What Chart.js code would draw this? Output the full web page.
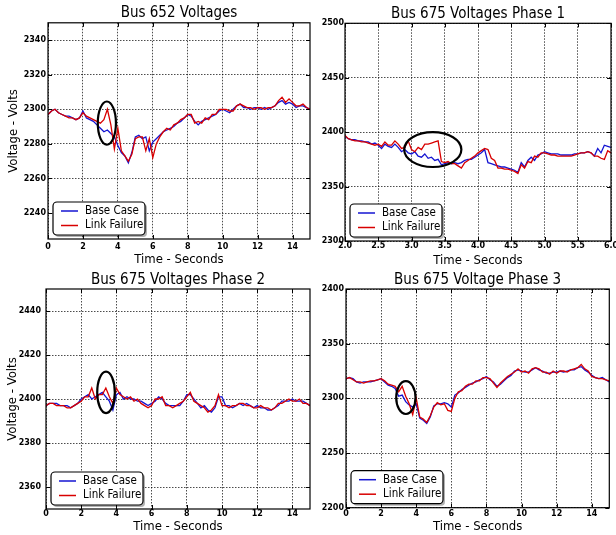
<!DOCTYPE html>
<html>
<head>
<meta charset="utf-8">
<script src="https://cdn.jsdelivr.net/npm/chart.js@4.4.1/dist/chart.umd.min.js"></script>
<style>
  html, body { margin: 0; padding: 0; background: #fff; }
  #wrap { position: relative; width: 616px; height: 535px; overflow: hidden; }
  canvas { position: absolute; }
</style>
</head>
<body>
<div id="wrap">
  <canvas id="bus652" width="316" height="268" style="left:0;top:0"></canvas>
  <canvas id="phase1" width="300" height="268" style="left:316px;top:0"></canvas>
  <canvas id="phase2" width="316" height="267" style="left:0;top:268px"></canvas>
  <canvas id="phase3" width="300" height="267" style="left:316px;top:268px"></canvas>
</div>
<script>
// sample times (s)
const timeFull = [0,0.2,0.4,0.6,0.8,1,1.2,1.4,1.6,1.8,
  2,2.2,2.4,2.6,2.8,3,3.2,3.4,3.6,3.8,
  4,4.2,4.4,4.6,4.8,5,5.2,5.4,5.6,5.8,
  6,6.2,6.4,6.6,6.8,7,7.2,7.4,7.6,7.8,
  8,8.2,8.4,8.6,8.8,9,9.2,9.4,9.6,9.8,
  10,10.2,10.4,10.6,10.8,11,11.2,11.4,11.6,11.8,
  12,12.2,12.4,12.6,12.8,13,13.2,13.4,13.6,13.8,
  14,14.2,14.4,14.6,14.8,15];
const timeZoom = [2,2.05,2.1,2.15,2.2,2.25,2.3,2.35,2.4,2.45,
  2.5,2.55,2.6,2.65,2.7,2.75,2.8,2.85,2.9,2.95,
  3,3.05,3.1,3.15,3.2,3.25,3.3,3.35,3.4,3.45,
  3.5,3.55,3.6,3.65,3.7,3.75,3.8,3.85,3.9,3.95,
  4,4.05,4.1,4.15,4.2,4.25,4.3,4.35,4.4,4.45,
  4.5,4.55,4.6,4.65,4.7,4.75,4.8,4.85,4.9,4.95,
  5,5.05,5.1,5.15,5.2,5.25,5.3,5.35,5.4,5.45,
  5.5,5.55,5.6,5.65,5.7,5.75,5.8,5.85,5.9,5.95,
  6];

// Bus 652
const bus652Base = [2297,2299,2300,2298,2297,2296,2296,2295,2294,2295,
  2299,2295,2294,2293,2291,2289,2287,2288,2286,2284,
  2279,2275,2273,2269,2275,2284,2285,2283,2284,2276,
  2281,2283,2285,2287,2288,2289,2290,2292,2293,2295,
  2297,2296,2293,2291,2293,2294,2295,2296,2297,2299,
  2300,2299,2298,2300,2302,2303,2301,2301,2300,2301,
  2301,2300,2301,2300,2301,2302,2304,2305,2303,2304,
  2303,2301,2302,2302,2301,2300];
const bus652Fail = [2297,2299,2300,2298,2297,2296,2295,2295,2294,2295,
  2298,2296,2295,2294,2293,2292,2294,2300,2291,2277,
  2289,2276,2273,2270,2274,2283,2284,2284,2276,2283,
  2272,2280,2284,2287,2289,2288,2291,2292,2294,2295,
  2297,2297,2292,2293,2292,2295,2294,2297,2297,2300,
  2300,2300,2299,2299,2302,2303,2302,2301,2301,2300,
  2301,2301,2300,2301,2301,2302,2305,2307,2304,2306,
  2304,2302,2302,2303,2301,2300];

// Bus 675 phase 1 (2 - 6 s)
const phase1Base = [2396,2394,2393,2393,2392,2392,2391,2391,2389,2390,
  2388,2385,2389,2387,2386,2389,2386,2382,2384,2381,
  2380,2382,2378,2377,2380,2376,2377,2374,2375,2370,
  2371,2372,2371,2372,2371,2372,2374,2375,2375,2377,
  2379,2381,2384,2372,2371,2370,2369,2368,2368,2367,
  2366,2365,2363,2372,2368,2374,2377,2374,2379,2380,
  2382,2381,2380,2380,2380,2379,2379,2379,2379,2380,
  2380,2381,2381,2382,2381,2378,2385,2381,2388,2387,
  2386];
const phase1Fail = [2397,2394,2393,2392,2392,2391,2391,2390,2389,2388,
  2389,2387,2391,2388,2388,2392,2389,2385,2386,2392,
  2384,2382,2386,2384,2389,2389,2390,2391,2392,2373,
  2372,2373,2371,2371,2369,2367,2372,2374,2376,2378,
  2381,2383,2385,2384,2376,2374,2367,2367,2366,2366,
  2365,2364,2362,2370,2367,2373,2372,2378,2377,2381,
  2381,2380,2379,2379,2378,2378,2378,2378,2378,2379,
  2380,2381,2381,2382,2381,2378,2378,2376,2375,2383,
  2381];

// Bus 675 phase 2
const phase2Base = [2397,2398,2398,2398,2397,2397,2397,2396,2397,2398,
  2400,2401,2402,2400,2401,2402,2403,2401,2399,2395,
  2402,2403,2400,2401,2400,2400,2399,2399,2398,2397,
  2398,2399,2401,2400,2398,2397,2397,2397,2397,2399,
  2402,2402,2400,2398,2396,2397,2395,2394,2396,2401,
  2401,2397,2397,2396,2397,2398,2397,2398,2397,2396,
  2397,2396,2396,2395,2395,2396,2397,2399,2399,2399,
  2400,2399,2399,2399,2398,2397];
const phase2Fail = [2397,2398,2398,2397,2397,2397,2396,2396,2397,2398,
  2399,2401,2401,2405,2400,2402,2402,2405,2401,2398,
  2405,2402,2401,2400,2401,2399,2400,2398,2397,2396,
  2397,2400,2400,2401,2397,2397,2396,2397,2398,2399,
  2401,2403,2399,2398,2397,2396,2394,2395,2397,2402,
  2397,2397,2396,2397,2397,2398,2398,2397,2397,2396,
  2396,2397,2396,2396,2395,2396,2398,2398,2399,2400,
  2399,2399,2400,2398,2398,2397];

// Bus 675 phase 3
const phase3Base = [2318,2319,2318,2315,2314,2315,2315,2315,2316,2317,
  2318,2315,2312,2311,2309,2302,2303,2297,2294,2292,
  2295,2282,2280,2277,2283,2293,2295,2295,2296,2295,
  2292,2303,2305,2308,2310,2312,2314,2315,2317,2318,
  2320,2317,2315,2311,2313,2316,2319,2321,2325,2326,
  2325,2324,2324,2326,2328,2326,2325,2323,2323,2324,
  2324,2325,2324,2325,2326,2326,2328,2329,2326,2324,
  2321,2319,2318,2319,2317,2315];
const phase3Fail = [2318,2319,2317,2315,2315,2314,2315,2316,2316,2317,
  2318,2316,2313,2312,2311,2306,2311,2302,2295,2285,
  2300,2283,2281,2278,2284,2292,2296,2294,2295,2289,
  2288,2300,2306,2307,2311,2313,2313,2316,2316,2319,
  2319,2318,2314,2310,2314,2317,2320,2322,2324,2327,
  2324,2325,2323,2327,2328,2327,2324,2324,2322,2325,
  2323,2325,2325,2324,2326,2327,2328,2331,2327,2325,
  2320,2319,2318,2318,2317,2316];

// tick labels
const xTicksFull = [0, 2, 4, 6, 8, 10, 12, 14];
const xTicksZoom = [2.0, 2.5, 3.0, 3.5, 4.0, 4.5, 5.0, 5.5, 6.0];
const yTicksBus652 = [2240, 2260, 2280, 2300, 2320, 2340];
const yTicksPhase1 = [2300, 2350, 2400, 2450, 2500];
const yTicksPhase2 = [2360, 2380, 2400, 2420, 2440];
const yTicksPhase3 = [2200, 2250, 2300, 2350, 2400];

// circled regions: [time, volts, radius s, radius V]
const circleBus652 = [3.37, 2292, 0.52, 12.5];
const circlePhase1 = [3.32, 2384, 0.43, 16];
const circlePhase2 = [3.41, 2403, 0.5, 9.4];
const circlePhase3 = [3.41, 2300.7, 0.55, 15];

const seriesNames = ['Base Case', 'Link Failure'];
const baseColor = '#1414d2';
const failColor = '#d80000';

const textFamily = "'DejaVu Sans Condensed', 'Liberation Sans', sans-serif";
const tickFont = { family: "'DejaVu Sans', sans-serif", size: 8, weight: 'bold' };
const titleFont = { family: textFamily, size: 15, weight: 'normal' };
const axisFont = { family: textFamily, size: 13, weight: 'normal' };

const decor = {
  id: 'decor',
  afterDatasetsDraw(chart, args, opts) {
    const { ctx, chartArea: a, scales: { x, y } } = chart;
    ctx.save();
    // circled region
    const e = opts.ellipse;
    if (e) {
      const cx = x.getPixelForValue(e[0]), cy = y.getPixelForValue(e[1]);
      const rx = Math.abs(x.getPixelForValue(e[0] + e[2]) - cx);
      const ry = Math.abs(y.getPixelForValue(e[1] + e[3]) - cy);
      ctx.beginPath();
      ctx.ellipse(cx, cy, rx, ry, 0, 0, Math.PI * 2);
      ctx.lineWidth = 2.2;
      ctx.strokeStyle = '#000';
      ctx.stroke();
    }
    // inward ticks
    ctx.lineWidth = 1;
    ctx.strokeStyle = '#000';
    ctx.beginPath();
    x.ticks.forEach(t => {
      const px = Math.round(x.getPixelForValue(t.value)) + 0.5;
      ctx.moveTo(px, a.bottom); ctx.lineTo(px, a.bottom - 4);
      ctx.moveTo(px, a.top); ctx.lineTo(px, a.top + 4);
    });
    y.ticks.forEach(t => {
      const py = Math.round(y.getPixelForValue(t.value)) + 0.5;
      ctx.moveTo(a.left, py); ctx.lineTo(a.left + 4, py);
      ctx.moveTo(a.right, py); ctx.lineTo(a.right - 4, py);
    });
    ctx.stroke();
    // frame
    ctx.lineWidth = 1.2;
    ctx.strokeRect(a.left, a.top, a.right - a.left, a.bottom - a.top);
    // legend box, lower left
    const bx = a.left + 5, bw = 92, bh = 33, by = a.bottom - 4 - bh;
    ctx.fillStyle = 'rgba(0,0,0,0.3)';
    ctx.beginPath(); ctx.roundRect(bx + 2, by + 2, bw, bh, 4); ctx.fill();
    ctx.fillStyle = '#fff';
    ctx.beginPath(); ctx.roundRect(bx, by, bw, bh, 4); ctx.fill();
    ctx.lineWidth = 1.2; ctx.strokeStyle = '#000'; ctx.stroke();
    ctx.font = "11.5px " + textFamily;
    ctx.textBaseline = 'middle';
    chart.data.datasets.forEach((ds, i) => {
      const ry = by + 9 + i * 14.5;
      ctx.strokeStyle = ds.borderColor;
      ctx.lineWidth = 1.5;
      ctx.beginPath(); ctx.moveTo(bx + 8, ry); ctx.lineTo(bx + 25, ry); ctx.stroke();
      ctx.fillStyle = '#000';
      ctx.fillText(ds.label, bx + 32, ry);
    });
    ctx.restore();
  }
};

function toPoints(times, values) {
  return times.map((t, i) => ({ x: t, y: values[i] }));
}

function makeChart(id, p) {
  const gridOpts = { color: 'rgba(0,0,0,0.7)', lineWidth: 1, drawTicks: false };
  const borderOpts = { display: false, dash: [1.5, 1.5] };
  return new Chart(document.getElementById(id), {
    type: 'line',
    data: {
      datasets: [
        { label: seriesNames[0], data: toPoints(p.time, p.base), borderColor: baseColor, order: 1 },
        { label: seriesNames[1], data: toPoints(p.time, p.fail), borderColor: failColor, order: 0 }
      ]
    },
    options: {
      responsive: false,
      animation: false,
      parsing: false,
      elements: { point: { radius: 0 }, line: { borderWidth: 1.3, tension: 0 } },
      layout: { padding: { left: 0, right: p.padRight, top: 0, bottom: 0 } },
      plugins: {
        legend: { display: false },
        tooltip: { enabled: false },
        title: { display: true, text: p.title, fullSize: false, font: titleFont, color: '#000', padding: p.titlePad },
        decor: { ellipse: p.ellipse }
      },
      scales: {
        x: {
          type: 'linear', min: p.xMin, max: p.xMax,
          afterBuildTicks: s => { s.ticks = p.xTicks.map(v => ({ value: v })); },
          afterFit: s => { s.height = p.xHeight; s.paddingLeft = 0; s.paddingRight = 0; },
          grid: gridOpts, border: borderOpts,
          ticks: { font: tickFont, color: '#000', padding: p.xTickPad, maxRotation: 0, autoSkip: false,
                   callback: v => p.xDecimals ? v.toFixed(p.xDecimals) : v },
          title: { display: true, text: 'Time - Seconds', font: axisFont, color: '#000', padding: { top: 0, bottom: p.xTitlePad } }
        },
        y: {
          type: 'linear', min: p.yMin, max: p.yMax,
          afterBuildTicks: s => { s.ticks = p.yTicks.map(v => ({ value: v })); },
          afterFit: s => { s.width = p.yWidth; s.paddingTop = 0; s.paddingBottom = 0; },
          grid: gridOpts, border: borderOpts,
          ticks: { font: tickFont, color: '#000', padding: p.yTickPad, autoSkip: false, callback: v => v },
          title: { display: !!p.yTitle, text: p.yTitle || '', font: axisFont, color: '#000', padding: { top: p.yTitlePad, bottom: 0 } }
        }
      }
    },
    plugins: [decor]
  });
}

makeChart('bus652', {
  title: 'Bus 652 Voltages', time: timeFull, base: bus652Base, fail: bus652Fail,
  xMin: 0, xMax: 15, xTicks: xTicksFull, yMin: 2225, yMax: 2350, yTicks: yTicksBus652,
  ellipse: circleBus652, yTitle: 'Voltage - Volts',
  padRight: 6, titlePad: { top: 4, bottom: 0.8 }, xHeight: 29, xTickPad: 3, xTitlePad: 1,
  yWidth: 48, yTickPad: 2, yTitlePad: 6
});
makeChart('phase1', {
  title: 'Bus 675 Voltages Phase 1', time: timeZoom, base: phase1Base, fail: phase1Fail,
  xMin: 2, xMax: 6, xTicks: xTicksZoom, xDecimals: 1, yMin: 2300, yMax: 2500, yTicks: yTicksPhase1,
  ellipse: circlePhase1,
  padRight: 5, titlePad: { top: 5, bottom: 0.3 }, xHeight: 27, xTickPad: 0, xTitlePad: 0,
  yWidth: 29, yTickPad: 1, yTitlePad: 0
});
makeChart('phase2', {
  title: 'Bus 675 Voltages Phase 2', time: timeFull, base: phase2Base, fail: phase2Fail,
  xMin: 0, xMax: 15, xTicks: xTicksFull, yMin: 2350, yMax: 2450, yTicks: yTicksPhase2,
  ellipse: circlePhase2, yTitle: 'Voltage - Volts',
  padRight: 6, titlePad: { top: 3, bottom: 0 }, xHeight: 26, xTickPad: 0, xTitlePad: 0.2,
  yWidth: 46, yTickPad: 5, yTitlePad: 4.7
});
makeChart('phase3', {
  title: 'Bus 675 Voltage Phase 3', time: timeFull, base: phase3Base, fail: phase3Fail,
  xMin: 0, xMax: 15, xTicks: xTicksFull, yMin: 2200, yMax: 2400, yTicks: yTicksPhase3,
  ellipse: circlePhase3,
  padRight: 6.7, titlePad: { top: 3, bottom: 0 }, xHeight: 27.3, xTickPad: 1.7, xTitlePad: 0.2,
  yWidth: 30, yTickPad: 2, yTitlePad: 0
});
</script>
</body>
</html>
